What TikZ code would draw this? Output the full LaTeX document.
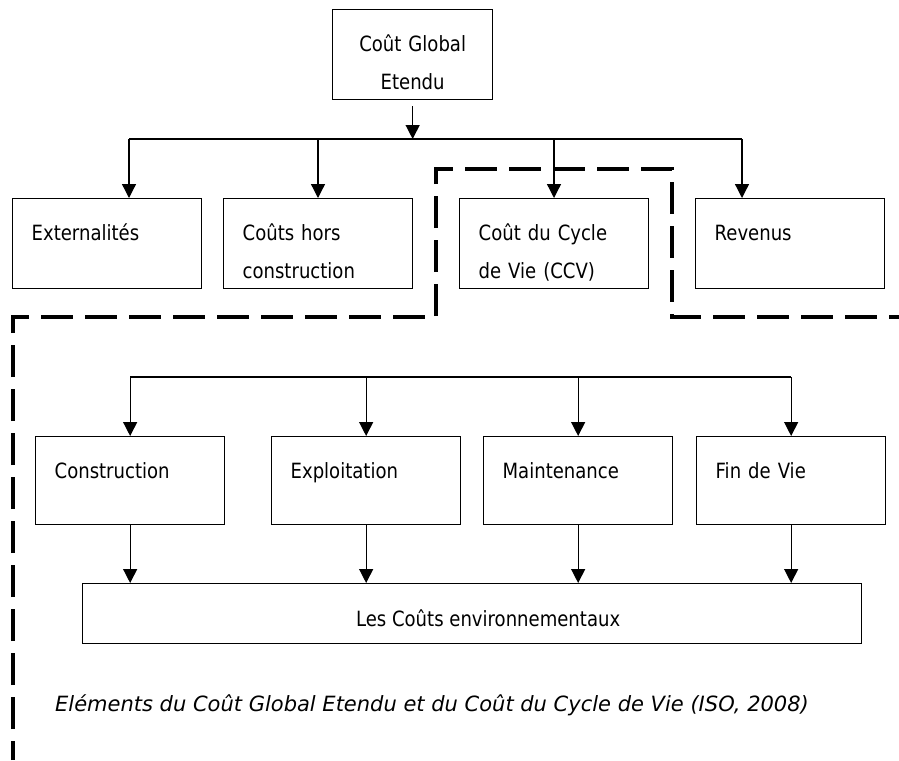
\documentclass[tikz,border=0pt]{standalone}
\usepackage{fontspec}
\setmainfont{DejaVu Sans}[FakeStretch=0.86]
\newfontfamily\capfont{DejaVu Sans}
\usetikzlibrary{arrows.meta, positioning, calc}

\tikzset{
  box/.style={draw, line width=1.3pt, anchor=north west, inner xsep=19pt, inner ysep=0pt,
    align=left, text width=151pt, text height=42pt, text depth=48pt},
  arr/.style={line width=1.3pt, -{Triangle[length=14pt, width=14pt]}},
  bar/.style={line width=1.3pt},
  frame/.style={line width=3.3pt, dash pattern=on 32pt off 12pt, dash phase=13pt}
}

\begin{document}
\begin{tikzpicture}[x=1pt, y=-1pt, font=\fontsize{21}{37.5}\selectfont]
  \useasboundingbox (0,0) rectangle (899,760);

  \node[box, align=center, text width=122pt] (cge) at (332,9) {Coût Global\\Etendu};

  \foreach \n/\x/\ax/\txt in {ext/12/129/Externalités, hors/223/318/{Coûts hors\\construction},
      ccv/459/554/{Coût du Cycle\\de Vie (CCV)}, rev/695/742/Revenus} {
    \node[box] (\n) at (\x,198) {\txt};
    \coordinate (t\n) at (\ax,139);
    \draw[arr] (t\n) -- (t\n |- \n.north);
  }
  \draw[bar] (text) -- (trev);
  \draw[arr] ([yshift=-6pt]cge.south) -- (cge.south |- text);

  \foreach \n/\x/\txt in {cons/35/Construction, expl/271/Exploitation,
      main/483/Maintenance, fin/696/Fin de Vie} {
    \node[box, text depth=46pt] (\n) at (\x,436) {\txt};
    \path (\n.north) ++(0,-59) coordinate (u\n);
    \draw[arr] (u\n) -- (\n.north);
  }
  \draw[bar] (ucons) -- (ufin);

  \node[draw, line width=1.3pt, anchor=north west, minimum width=779pt, inner sep=0pt,
    text height=43pt, text depth=17pt] (env) at (82,583) {\hspace*{32pt}Les Coûts environnementaux};
  \foreach \n in {cons, expl, main, fin}
    \draw[arr] (\n.south) -- (\n.south |- env.north);

  \node[anchor=west, inner sep=0pt, font=\capfont\fontsize{21}{37.5}\selectfont\itshape] (cap) at (55,705)
    {Eléments du Coût Global Etendu et du Coût du Cycle de Vie (ISO, 2008)};

  \coordinate (c0) at (13,760);
  \coordinate (c1) at (13,317);
  \coordinate (c2) at (436,317);
  \coordinate (c3) at (436,169);
  \coordinate (c4) at (672,169);
  \coordinate (c5) at (672,317);
  \coordinate (c6) at (899,317);
  \draw[frame] (c0) -- (c1) -- (c2) -- (c3) -- (c4) -- (c5) -- (c6);
\end{tikzpicture}
\end{document}
